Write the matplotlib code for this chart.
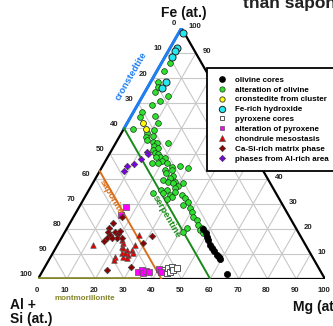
import matplotlib.pyplot as plt
import numpy as np
from matplotlib.lines import Line2D

plt.rcParams['font.family'] = ['Liberation Sans', 'DejaVu Sans']

# values in at.% : Mg and Fe (Al+Si = 100 - Mg - Fe)
olivine_core_mg = [47.7, 49.3, 50.7, 51.5, 53.0, 54.3, 55.7, 57.5, 58.6, 59.5, 64.7]
olivine_core_fe = [19.9, 18.3, 16.7, 15.5, 13.7, 12.5, 11.2, 9.6, 8.6, 7.8, 2.0]

alt_olivine_mg = [3.2, 2.4, 2.5, 3.6, 3.6, 8.9, 7.0, 5.1, 2.8, 3.2, 8.3, 10.6, 3.2, 10.7,
                  8.9, 9.3, 11.6, 10.2, 12.7, 18.4, 14.3, 13.9, 15.6, 14.5, 15.6, 17.1,
                  18.1, 16.7, 20.2, 19.5, 16.6, 18.6, 21.8, 24.2, 27.0, 30.2, 22.5, 24.9,
                  23.7, 26.5, 25.9, 24.0, 28.3, 26.0, 31.4, 28.0, 30.4, 29.6, 25.2, 27.1,
                  22.9, 26.6, 30.3, 29.3, 33.4, 35.1, 30.2, 28.9, 37.0, 35.9, 38.9, 40.1,
                  41.7, 43.5, 45.0, 41.7, 41.2, 46.9, 46.6, 48.5]
alt_olivine_fe = [85.9, 83.0, 78.4, 76.6, 74.4, 73.0, 70.9, 69.3, 66.7, 64.5, 64.9, 62.3, 59.6, 59.4,
                  58.0, 56.6, 56.8, 55.4, 54.6, 54.1, 54.2, 53.0, 52.1, 51.4, 50.3, 49.7,
                  48.7, 48.7, 48.1, 47.2, 46.1, 46.1, 46.1, 44.8, 45.0, 44.3, 43.4, 43.4,
                  42.1, 41.2, 40.1, 39.4, 38.8, 38.8, 38.4, 38.1, 37.1, 36.1, 35.5, 35.5,
                  34.1, 34.1, 34.8, 33.5, 33.5, 32.2, 32.8, 31.8, 30.8, 29.5, 28.2, 26.8,
                  24.8, 23.5, 21.5, 20.2, 18.8, 20.2, 19.5, 18.2]

cronst_mg = [5.7, 8.0]
cronst_fe = [62.0, 59.6]

fe_hydrox_mg = [1.5, 2.2, 2.1, 2.3, 5.4, 5.2]
fe_hydrox_fe = [98.2, 92.2, 91.0, 88.6, 78.3, 76.0]

pyx_core_mg = [41.9, 43.7, 43.3, 44.5, 44.1, 45.3, 46.2]
pyx_core_fe = [3.6, 2.3, 4.3, 2.9, 4.9, 3.6, 4.3]

alt_pyx_mg = [16.4, 16.1, 33.4, 34.3, 35.4, 36.2, 37.3, 40.3, 41.3]
alt_pyx_fe = [28.6, 25.5, 2.8, 3.6, 2.4, 3.2, 2.8, 3.8, 2.8]

mesostasis_mg = [12.5, 26.4, 22.6, 22.7, 23.6, 25.1, 26.9, 24.1, 25.2, 26.7, 28.1,
                 22.4, 22.8, 25.3, 26.8, 27.0, 21.4]
mesostasis_fe = [13.5, 17.5, 14.2, 12.9, 12.2, 11.6, 11.4, 10.2, 10.2, 9.6, 10.2,
                 8.9, 7.6, 8.9, 8.2, 13.5, 15.5]

casi_matrix_mg = [16.9, 15.0, 14.6, 17.4, 18.9, 18.9, 15.1, 16.3, 15.8, 15.2, 19.3,
                  17.5, 21.1, 31.0, 29.6, 30.1, 22.3]
casi_matrix_fe = [24.7, 22.3, 20.5, 18.8, 18.1, 19.3, 18.8, 17.5, 16.2, 15.3, 16.2,
                  16.5, 16.2, 17.1, 14.2, 4.9, 3.6]

al_rich_mg = [12.5, 13.6, 12.2, 10.6, 8.4, 8.5]
al_rich_fe = [50.7, 49.8, 47.7, 46.0, 45.0, 43.0]

ticks = list(range(0, 101, 10))
fe_ticks = [100, 90, 40, 30, 20, 10]   # the others sit behind the legend


def tern(mg, fe):
    mg = np.asarray(mg, dtype=float)
    fe = np.asarray(fe, dtype=float)
    return mg + fe / 2, fe


W, H = 333, 326
fig = plt.figure(figsize=(W / 100, H / 100), dpi=100)
ax = fig.add_axes([38 / W, (H - 279) / H, 287 / W, 251 / H])
ax.set_xlim(0, 100)
ax.set_ylim(0, 100)
ax.axis('off')

# grid
for k in ticks[1:-1]:
    for mg, fe in [([0, 100 - k], [k, k]), ([k, k], [0, 100 - k]), ([100 - k, 0], [0, 100 - k])]:
        x, y = tern(mg, fe)
        ax.plot(x, y, color='#c8c8c8', lw=0.8, zorder=1)

# edges
x, y = tern([0, 100, 0, 0], [0, 0, 100, 0])
ax.plot(x, y, color='black', lw=1.6, zorder=2, solid_capstyle='butt')

# mineral lines
x, y = tern([0, 0], [100, 60])
ax.plot(x, y, color='#1f7ff0', lw=2.2, zorder=3)
x, y = tern([0, 36], [0, 0])
ax.plot(x, y, color='#85852a', lw=2.6, zorder=3, solid_capstyle='butt')
x, y = tern([0, 60], [60, 0])
ax.plot(x, y, color='#1a8a1a', lw=1.4, zorder=3)
x, y = tern([0, 43], [43, 0])
ax.plot(x, y, color='#d9701c', lw=1.4, zorder=3)

# tick labels
tkw = dict(fontsize=5.6, fontweight='bold', color='#222222', textcoords='offset points', annotation_clip=False)
for v in ticks:
    x, y = tern(0, 100 - v)
    ax.annotate(str(v), (x, y), xytext=(-4, 3), ha='right', va='center', **tkw)
    x, y = tern(v, 0)
    ax.annotate(str(v), (x, y), xytext=(-1, -8), ha='center', va='center', **tkw)
for v in fe_ticks:
    x, y = tern(100 - v, v)
    ax.annotate(str(v), (x, y), xytext=(5, 1), ha='left', va='center', **tkw)

# data
series = [
    (alt_olivine_mg, alt_olivine_fe, dict(marker='o', s=17, c='#2fe02f', edgecolors='#1a3a1a', linewidths=0.5)),
    (olivine_core_mg, olivine_core_fe, dict(marker='o', s=20, c='black', edgecolors='black', linewidths=0.5)),
    (cronst_mg, cronst_fe, dict(marker='o', s=18, c='#ffff00', edgecolors='#333333', linewidths=0.6)),
    (fe_hydrox_mg, fe_hydrox_fe, dict(marker='o', s=26, c='#25e8f0', edgecolors='#222222', linewidths=0.7)),
    (pyx_core_mg, pyx_core_fe, dict(marker='s', s=13, c='white', edgecolors='#555555', linewidths=0.7)),
    (alt_pyx_mg, alt_pyx_fe, dict(marker='s', s=14, c='#ff00ff', edgecolors='#555555', linewidths=0.5)),
    (mesostasis_mg, mesostasis_fe, dict(marker='^', s=16, c='#e00000', edgecolors='#555555', linewidths=0.5)),
    (casi_matrix_mg, casi_matrix_fe, dict(marker='D', s=11, c='#8b0000', edgecolors='#444444', linewidths=0.5)),
    (al_rich_mg, al_rich_fe, dict(marker='D', s=11, c='#7a00e0', edgecolors='#444444', linewidths=0.5)),
]
for mg, fe, kw in series:
    x, y = tern(mg, fe)
    ax.scatter(x, y, zorder=5, clip_on=False, **kw)

# line labels
lkw = dict(fontsize=6.8, fontweight='bold', ha='center', va='center', rotation_mode='anchor')
fig.text(131 / W, 1 - 76 / H, 'cronstedtite', color='#1f7ff0', rotation=60, **lkw)
fig.text(111 / W, 1 - 197 / H, 'saponite', color='#d9701c', rotation=-60, **lkw)
fig.text(167 / W, 1 - 217 / H, 'serpentine', color='#1a8a1a', rotation=-60, **lkw)
fig.text(85 / W, 1 - 298 / H, 'montmorillonite', color='#85852a', fontsize=5.8,
         fontweight='bold', ha='center', va='center')

# axis titles
akw = dict(fontsize=10, fontweight='bold', color='#111111', va='baseline')
fig.text(184 / W, 1 - 17 / H, 'Fe (at.)', ha='center', **akw)
fig.text(10 / W, 1 - 309 / H, 'Al +', ha='left', **akw)
fig.text(10 / W, 1 - 323 / H, 'Si (at.)', ha='left', **akw)
fig.text(293 / W, 1 - 311 / H, 'Mg (at.)', ha='left', **akw)
fig.text(243 / W, 1 - 8 / H, 'than saponite', ha='left', fontsize=12.5,
         fontweight='bold', color='#222222', va='baseline')

# legend
handles = [
    Line2D([], [], ls='none', marker='o', ms=3.8, mfc='black', mec='black'),
    Line2D([], [], ls='none', marker='o', ms=3.8, mfc='#2fe02f', mec='#1a3a1a', mew=0.5),
    Line2D([], [], ls='none', marker='o', ms=3.8, mfc='#ffff00', mec='#333333', mew=0.6),
    Line2D([], [], ls='none', marker='o', ms=4.6, mfc='#25e8f0', mec='#222222', mew=0.7),
    Line2D([], [], ls='none', marker='s', ms=3.5, mfc='white', mec='#555555', mew=0.7),
    Line2D([], [], ls='none', marker='s', ms=3.5, mfc='#ff00ff', mec='#555555', mew=0.5),
    Line2D([], [], ls='none', marker='^', ms=3.8, mfc='#e00000', mec='#555555', mew=0.5),
    Line2D([], [], ls='none', marker='D', ms=3.2, mfc='#8b0000', mec='#444444', mew=0.5),
    Line2D([], [], ls='none', marker='D', ms=3.2, mfc='#7a00e0', mec='#444444', mew=0.5),
]
labels = ['olivine cores', 'alteration of olivine', 'cronstedite from cluster', 'Fe-rich hydroxide',
          'pyroxene cores', 'alteration of pyroxene', 'chondrule mesostasis',
          'Ca-Si-rich matrix phase', 'phases from Al-rich area']
leg = fig.legend(handles, labels, loc='upper left', bbox_to_anchor=(207 / W, 1 - 68 / H),
                 frameon=True, fancybox=False, edgecolor='black', framealpha=1,
                 prop={'size': 5.8, 'weight': 'bold'}, handlelength=1.6, handletextpad=0.9,
                 labelspacing=0.28, borderpad=1.0, borderaxespad=0)
leg.get_frame().set_linewidth(1.3)
leg.set_zorder(10)

fig.savefig('out.png', dpi=100)
